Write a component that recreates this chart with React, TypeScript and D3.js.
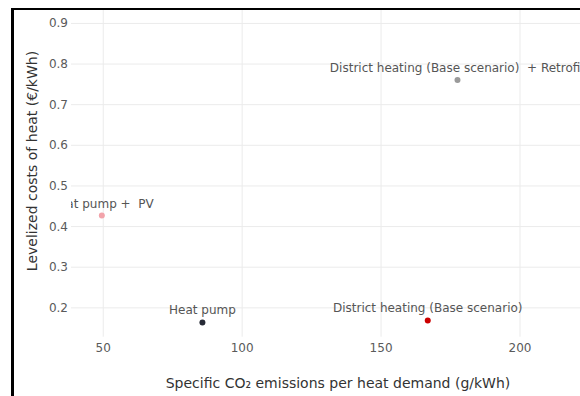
import React from "react";
import * as d3 from "d3";

const technologies = [
  "Heat pump +  PV",
  "Heat pump",
  "District heating (Base scenario)",
  "District heating (Base scenario)  + Retrofit",
];
const co2Values = [49.5, 85.7, 166.8, 177.5];
const lcohValues = [0.427, 0.164, 0.169, 0.761];
const pointColors = ["#f2a3aa", "#262a36", "#cc0000", "#9a9a9a"];
const xTicks = [50, 100, 150, 200];
const yTicks = [0.2, 0.3, 0.4, 0.5, 0.6, 0.7, 0.8, 0.9];

const W = 580;
const H = 396;
const plot = { left: 71, right: 580, top: 10, bottom: 336.7 };
const FONT = "'DejaVu Sans', Verdana, sans-serif";

export default function App() {
  const x = d3.scaleLinear().domain([38.4, 221.6]).range([plot.left, plot.right]);
  const y = d3.scaleLinear().domain([0.129, 0.933]).range([plot.bottom, plot.top]);

  return (
    <svg
      width={W}
      height={H}
      style={{ position: "fixed", left: 0, top: 0, background: "#fff" }}
      fontFamily={FONT}
    >
      <defs>
        <clipPath id="plotclip">
          <rect x={plot.left} y={plot.top} width={plot.right - plot.left} height={plot.bottom - plot.top} />
        </clipPath>
      </defs>
      <rect x={0} y={0} width={W} height={H} fill="#fff" />
      {/* grid */}
      <g stroke="#ebebeb" strokeWidth={1}>
        {xTicks.map((t) => (
          <line key={"gx" + t} x1={x(t)} x2={x(t)} y1={plot.top} y2={plot.bottom} />
        ))}
        {yTicks.map((t) => (
          <line key={"gy" + t} x1={plot.left} x2={plot.right} y1={y(t)} y2={y(t)} />
        ))}
      </g>
      {/* tick labels */}
      <g fill="#5a5a5a" fontSize={12}>
        {yTicks.map((t) => (
          <text key={"ty" + t} x={68} y={y(t)} textAnchor="end" dominantBaseline="central">
            {d3.format(".1f")(t)}
          </text>
        ))}
        {xTicks.map((t) => (
          <text key={"tx" + t} x={x(t)} y={351.5} textAnchor="middle">
            {t}
          </text>
        ))}
      </g>
      {/* points and labels */}
      <g clipPath="url(#plotclip)">
        {technologies.map((name, i) => (
          <g key={name}>
            <text
              x={x(co2Values[i])}
              y={y(lcohValues[i]) - 8}
              textAnchor="middle"
              fontSize={12}
              fill="#555"
              style={{ whiteSpace: "pre" }}
            >
              {name}
            </text>
            <circle cx={x(co2Values[i])} cy={y(lcohValues[i])} r={3} fill={pointColors[i]} />
          </g>
        ))}
      </g>
      {/* axis titles */}
      <text x={338} y={388} textAnchor="middle" fontSize={14} fill="#333">
        Specific CO₂ emissions per heat demand (g/kWh)
      </text>
      <text
        transform={`translate(32,161) rotate(-90)`}
        textAnchor="middle"
        dominantBaseline="central"
        fontSize={14}
        fill="#333"
      >
        Levelized costs of heat (€/kWh)
      </text>
      {/* frame */}
      <rect x={11} y={8} width={3} height={H - 8} fill="#000" />
      <rect x={11} y={8} width={W - 11} height={2} fill="#000" />
    </svg>
  );
}
